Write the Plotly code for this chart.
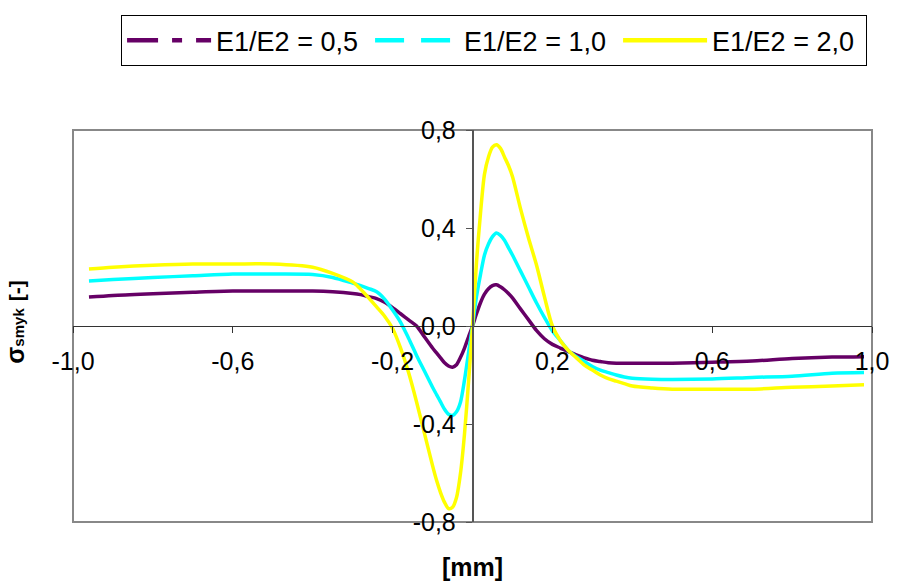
import plotly.graph_objects as go

# ---- data ----
x_mm = [-0.96, -0.9, -0.8, -0.7, -0.6, -0.5, -0.4, -0.35,
        -0.30, -0.28, -0.26, -0.24, -0.22, -0.20, -0.18, -0.16, -0.14, -0.12,
        -0.10, -0.09, -0.08, -0.07, -0.06, -0.05, -0.04, -0.03, -0.02, -0.01, 0.0,
        0.01, 0.02, 0.03, 0.04, 0.05, 0.06, 0.07, 0.08, 0.09, 0.10,
        0.12, 0.14, 0.16, 0.18, 0.20, 0.22, 0.24, 0.26, 0.28, 0.30, 0.32, 0.34, 0.36, 0.38, 0.40,
        0.45, 0.5, 0.6, 0.7, 0.8, 0.9, 0.98]

y_05 = [0.118, 0.125, 0.132, 0.138, 0.143, 0.143, 0.143, 0.140,
        0.133, 0.128, 0.120, 0.112, 0.097, 0.075, 0.050, 0.025, 0.0, -0.045,
        -0.09, -0.11, -0.13, -0.15, -0.163, -0.168, -0.158, -0.128, -0.09, -0.045, 0.0,
        0.05, 0.095, 0.13, 0.152, 0.165, 0.168, 0.16, 0.148, 0.133, 0.115,
        0.07, 0.026, -0.018, -0.052, -0.075, -0.09, -0.105, -0.118, -0.13, -0.14, -0.145, -0.15, -0.152, -0.152, -0.152,
        -0.152, -0.152, -0.148, -0.143, -0.133, -0.127, -0.125]

y_10 = [0.184, 0.190, 0.198, 0.205, 0.212, 0.212, 0.210, 0.198,
        0.175, 0.165, 0.153, 0.140, 0.110, 0.065, 0.015, -0.05, -0.12, -0.185,
        -0.25, -0.28, -0.31, -0.34, -0.36, -0.365, -0.35, -0.31, -0.22, -0.11, 0.0,
        0.12, 0.21, 0.29, 0.335, 0.365, 0.38, 0.37, 0.35, 0.32, 0.29,
        0.225, 0.16, 0.095, 0.035, -0.02, -0.06, -0.10, -0.125, -0.145, -0.165, -0.18, -0.19, -0.20, -0.208, -0.213,
        -0.217, -0.218, -0.216, -0.21, -0.205, -0.193, -0.19]

y_20 = [0.233, 0.240, 0.248, 0.253, 0.253, 0.253, 0.240, 0.215,
        0.180, 0.150, 0.115, 0.078, 0.040, -0.01, -0.09, -0.19, -0.31, -0.44,
        -0.57, -0.63, -0.68, -0.72, -0.745, -0.74, -0.70, -0.60, -0.44, -0.23, 0.0,
        0.26, 0.46, 0.62, 0.69, 0.73, 0.74, 0.725, 0.69, 0.655, 0.61,
        0.48, 0.36, 0.25, 0.12, 0.0, -0.06, -0.10, -0.13, -0.16, -0.18, -0.20, -0.215, -0.225, -0.235, -0.245,
        -0.253, -0.258, -0.258, -0.258, -0.25, -0.245, -0.24]

series_names = ["E1/E2 = 0,5", "E1/E2 = 1,0", "E1/E2 = 2,0"]
series_vals = [y_05, y_10, y_20]
series_colors = ["#660066", "#00FFFF", "#FFFF00"]
legend_dash = ["31px,14px,10px,14px", "29px,17px", "solid"]

x_ticks = [-1.0, -0.6, -0.2, 0.2, 0.6, 1.0]
x_ticktext = ["-1,0", "-0,6", "-0,2", "0,2", "0,6", "1,0"]
y_ticks = [-0.8, -0.4, 0.0, 0.4, 0.8]
y_ticktext = ["-0,8", "-0,4", "0,0", "0,4", "0,8"]

FONT = "Arial, 'Liberation Sans', sans-serif"

fig = go.Figure()

for name, vals, col in zip(series_names, series_vals, series_colors):
    fig.add_trace(go.Scatter(x=x_mm, y=vals, mode="lines", name=name, showlegend=False,
                             line=dict(color=col, width=3.5, shape="spline", smoothing=0.8)))

# legend-only entries (dash styles as in the legend of the reference)
for name, col, dash in zip(series_names, series_colors, legend_dash):
    fig.add_trace(go.Scatter(x=[None], y=[None], mode="lines", name=name,
                             line=dict(color=col, width=4.5, dash=dash)))

fig.update_layout(
    width=901, height=581,
    margin=dict(l=73, r=20, t=130, b=59),
    paper_bgcolor="white", plot_bgcolor="white",
    font=dict(family=FONT, size=25, color="black"),
    showlegend=True,
    legend=dict(orientation="h", x=0.527, xanchor="center", y=1.293, yanchor="top",
                bordercolor="black", borderwidth=1, bgcolor="white",
                font=dict(family=FONT, size=27, color="black"),
                itemwidth=84, entrywidth=149, tracegroupgap=0),
    xaxis=dict(range=[-1, 1], domain=[0, 1], anchor="free", position=0.5,
               showline=True, linecolor="#333333", linewidth=1,
               ticks="outside", ticklen=6, tickcolor="#333333",
               tickvals=x_ticks, ticktext=x_ticktext, ticklabelstandoff=7,
               showgrid=False, zeroline=False, fixedrange=True),
    yaxis=dict(range=[-0.8, 0.8], domain=[0, 1], anchor="free", position=0.5,
               showline=True, linecolor="#555555", linewidth=1.5,
               ticks="outside", ticklen=6, tickcolor="#555555",
               tickvals=y_ticks, ticktext=y_ticktext, ticklabelstandoff=5,
               showgrid=False, zeroline=False, fixedrange=True),
    shapes=[dict(type="rect", xref="paper", yref="paper", x0=0, y0=0, x1=1, y1=1,
                 line=dict(color="#888888", width=2), layer="below")],
    annotations=[
        dict(text="<b>[mm]</b>", xref="paper", yref="paper", x=0.5, y=-0.115,
             xanchor="center", yanchor="middle", showarrow=False,
             font=dict(family=FONT, size=25, color="black")),
        dict(text="<b>σ<span style='font-size:15px'>smyk</span> <span style='font-size:21px'>[-]</span></b>",
             xref="paper", yref="paper", x=-0.073, y=0.51, textangle=-90,
             xanchor="center", yanchor="middle", showarrow=False,
             font=dict(family=FONT, size=25, color="black")),
    ],
)

fig.write_html("out.html")
